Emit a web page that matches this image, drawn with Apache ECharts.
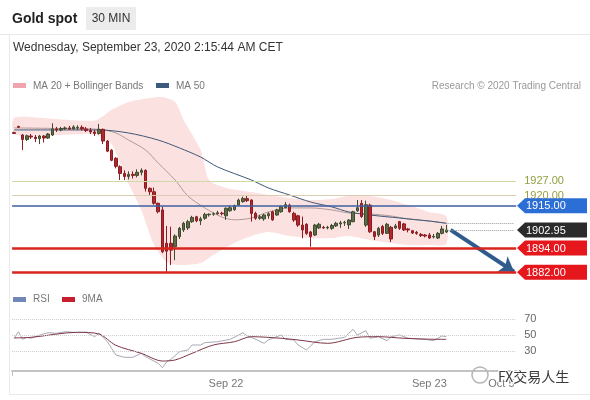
<!DOCTYPE html>
<html><head><meta charset="utf-8">
<script src="https://cdn.jsdelivr.net/npm/echarts/dist/echarts.min.js"></script>
<style>html,body{margin:0;padding:0;background:#fff;}#c{width:590px;height:400px;}</style>
</head><body><div id="c"></div>
<script>
// ---------- DATA ----------
const candleOpen  = [1951.2,1954.2,1950.0,1947.8,1949.5,1949.0,1948.2,1949.5,1948.5,1950.0,1953.0,1952.5,1953.2,1953.5,1953.0,1953.5,1953.8,1953.0,1952.2,1951.5,1950.8,1952.8,1947.0,1942.5,1938.5,1934.3,1931.0,1929.5,1930.5,1930.0,1931.5,1932.5,1923.6,1921.9,1916.2,1912.9,1896.4,1896.4,1894.7,1899.7,1903.0,1904.0,1907.1,1909.5,1907.5,1908.8,1910.5,1910.8,1911.0,1911.3,1910.0,1912.5,1913.0,1915.3,1917.0,1918.5,1917.8,1911.2,1908.8,1908.5,1910.0,1912.0,1910.4,1912.0,1914.0,1915.3,1911.2,1910.0,1905.4,1905.8,1902.0,1900.5,1904.0,1904.3,1904.0,1903.8,1905.0,1906.0,1906.5,1905.5,1907.1,1912.5,1916.2,1905.4,1915.3,1902.1,1900.5,1904.7,1901.3,1904.3,1904.0,1907.1,1906.0,1903.5,1902.6,1901.8,1900.8,1900.5,1900.5,1899.5,1899.0,1901.3,1902.0];
const candleHigh  = [1951.6,1954.6,1950.5,1950.2,1950.5,1950.0,1950.0,1950.0,1951.0,1955.8,1954.0,1954.0,1954.2,1954.5,1954.8,1954.8,1954.8,1954.0,1953.5,1952.5,1955.5,1953.2,1947.5,1943.0,1939.0,1935.0,1932.5,1932.0,1932.0,1933.0,1933.5,1933.0,1924.0,1924.0,1916.5,1914.5,1905.0,1904.6,1900.8,1904.5,1907.0,1908.0,1910.0,1910.0,1909.5,1911.5,1911.2,1911.7,1912.5,1912.0,1914.2,1915.0,1915.5,1918.5,1919.5,1919.8,1918.2,1912.0,1910.5,1911.0,1911.8,1912.5,1913.5,1915.0,1916.8,1916.0,1912.0,1910.5,1909.6,1906.3,1902.5,1906.0,1906.5,1905.0,1905.0,1906.0,1907.0,1907.5,1907.5,1908.3,1912.5,1917.8,1917.8,1917.5,1916.0,1902.5,1904.5,1905.5,1906.5,1905.0,1906.0,1907.5,1906.5,1904.0,1903.0,1902.5,1901.5,1901.0,1901.5,1901.0,1902.0,1905.0,1905.5];
const candleLow   = [1950.6,1953.5,1942.6,1947.0,1948.0,1946.5,1945.5,1946.3,1948.0,1949.5,1951.5,1951.8,1952.5,1952.5,1952.8,1952.5,1952.2,1951.5,1950.5,1949.5,1950.2,1945.5,1941.5,1937.0,1933.5,1927.7,1927.7,1928.0,1928.5,1929.0,1930.0,1922.0,1920.3,1915.5,1911.2,1891.5,1882.2,1885.6,1888.0,1898.5,1902.0,1903.0,1906.5,1906.8,1905.4,1908.0,1909.6,1910.0,1910.5,1910.2,1908.0,1912.0,1912.5,1915.0,1916.5,1916.8,1907.1,1908.0,1908.0,1907.5,1908.5,1907.5,1910.0,1911.5,1913.8,1911.5,1907.0,1904.5,1898.9,1900.5,1894.7,1900.0,1903.5,1903.5,1903.3,1903.0,1904.5,1904.0,1905.0,1903.5,1906.8,1912.0,1909.0,1904.5,1901.5,1898.0,1899.5,1900.5,1901.0,1897.0,1903.5,1903.0,1902.5,1901.8,1901.0,1900.6,1899.5,1899.3,1898.5,1898.8,1898.5,1900.8,1901.5];
const candleClose = [1950.8,1953.8,1947.8,1949.6,1949.0,1948.2,1949.5,1948.5,1950.5,1953.0,1952.5,1953.2,1953.5,1953.0,1954.0,1953.8,1953.0,1952.2,1951.5,1950.8,1952.8,1947.0,1942.0,1937.5,1934.5,1931.0,1929.5,1930.5,1930.0,1931.5,1932.5,1923.6,1921.9,1916.2,1912.0,1892.2,1892.5,1893.0,1900.0,1903.8,1906.3,1907.1,1909.2,1907.5,1908.5,1910.7,1910.8,1911.0,1911.5,1911.0,1913.7,1914.0,1915.0,1917.8,1918.6,1917.5,1911.2,1908.8,1909.5,1910.4,1911.0,1908.0,1912.9,1914.5,1915.5,1912.0,1907.9,1905.4,1903.0,1901.3,1899.7,1905.4,1905.8,1904.0,1904.3,1905.2,1906.3,1906.5,1906.8,1907.9,1912.0,1914.0,1909.6,1915.5,1902.1,1899.7,1903.8,1901.3,1905.8,1898.5,1905.0,1903.8,1903.0,1903.0,1901.5,1901.3,1900.2,1900.0,1899.0,1899.8,1901.3,1903.5,1902.95];

const bbUpIdx  = [0,8,19,23,27,32,35,38,40,44,46,50,56,60,65,70,75,79,84,89,93,98,102];
const bbUpper  = [1958.5,1958.2,1957.2,1962.4,1966.3,1968.3,1968.8,1966.3,1957.4,1942.6,1927.7,1923.8,1921.8,1920.3,1918.8,1917.8,1918.3,1919.8,1919.8,1917.8,1915.3,1911.8,1909.8];
const bbLowIdx = [0,8,19,23,26,30,33,36,39,44,47,52,56,60,65,70,75,79,84,89,93,98,102];
const bbLower  = [1950.5,1949.8,1950.2,1945.5,1930.2,1912.9,1895.5,1887.1,1885.6,1886.6,1890.6,1896.5,1900.0,1902.0,1900.0,1899.0,1899.0,1900.0,1898.0,1896.5,1895.5,1895.5,1896.0];

const ma20Idx = [0,11,20,24,27,31,34,38,41,45,49,52,56,60,65,70,75,79,84,89,93,98,102];
const ma20Val = [1953.5,1953.2,1952.8,1951.0,1947.5,1942.6,1936.1,1927.7,1919.8,1913.9,1909.4,1908.0,1908.9,1911.9,1913.9,1913.9,1912.9,1911.4,1910.9,1909.9,1908.4,1907.4,1906.3];
const ma50Idx = [0,20,27,34,39,44,48,56,60,65,70,75,79,84,91,98,102];
const ma50Val = [1952.5,1952.5,1951.0,1947.5,1943.6,1939.1,1934.2,1927.7,1923.8,1920.3,1916.8,1914.4,1911.9,1910.4,1908.9,1907.4,1906.3];

const rsiIdx = [0,1,2,3,4,5,6,8,10,12,15,17,19,20,22,24,26,28,30,31,34,35,36,37,39,41,42,44,45,48,51,53,54,55,56,59,60,63,64,66,67,69,71,73,75,78,80,81,83,84,86,88,89,91,93,97,99,101,102];
const rsiVal = [45.9,54.1,44.6,47.1,45.9,47.9,50,52.9,52.1,54.1,52.9,53.4,47.9,52.1,41.6,25,22.1,22.1,27.1,22.9,14.6,9.1,16.6,19.6,29.1,31.3,37.5,37.5,40.4,41.6,44.6,50,52.9,48.8,47.1,39.6,43.8,50,44.6,43.8,37.5,31.3,41.6,44.6,44.6,47.1,57.1,50,55.4,45.9,47.9,42.9,47.9,50,45.9,44.6,42.9,48.8,47.9];
const rsiMaIdx = [0,4,15,20,24,30,35,38,42,47,52,56,63,67,74,81,86,92,100,102];
const rsiMaVal = [46.3,47.1,53.4,51.3,37.1,27.1,17.5,18.8,27.1,37.5,41.6,47.9,45.9,43.8,39.6,47.1,47.9,45.9,44.6,44.6];

const levelValues = [1927, 1920, 1915, 1894, 1882];
const levelTexts  = ['1927.00', '1920.00', '1915.00', '1894.00', '1882.00'];
const lastPrice = 1902.95;
const ma50Last = 1906.3;
const arrowFrom = [103, 1903.0];
const arrowTo   = [118, 1882.3];
const rsiLevels = [70, 50, 30];

const tickIndex  = [50, 98, 115];
const tickLabels = ['Sep 22', 'Sep 23', 'Oct 5'];

const slotCount = 119;
const categories = [];
const monthNames = ['Jan','Feb','Mar','Apr','May','Jun','Jul','Aug','Sep','Oct','Nov','Dec'];
const t0 = Date.UTC(2020, 8, 20, 23, 0);
for (let i = 0; i < slotCount; i++) {
  const d = new Date(t0 + i * 1800000);
  categories.push(monthNames[d.getUTCMonth()] + ' ' + d.getUTCDate() + ' ' +
    String(d.getUTCHours()).padStart(2,'0') + ':' + String(d.getUTCMinutes()).padStart(2,'0'));
}

// ---------- STYLES ----------
const FONT = '"Liberation Sans", Arial, sans-serif';
const levelStyle = [
  {color:'#cddaa8', width:1, text:'#8fa03f', showText:true},
  {color:'#dccdb2', width:1, text:'#98a043', showText:true},
  {color:'#3c5fa2', width:1.5, showText:false},
  {color:'#d8241d', width:2.5, showText:false},
  {color:'#d8241d', width:2.5, showText:false}
];
const tagValues = [1915, lastPrice, 1894, 1882];
const tagTexts  = ['1915.00', '1902.95', '1894.00', '1882.00'];
const tagFill   = ['#2b6fd6', '#2b2b2b', '#e5161c', '#e5161c'];

const tickMap = {};
tickIndex.forEach((k, i) => tickMap[k] = tickLabels[i]);
const pairs = (xs, ys) => xs.map((x, i) => [x, ys[i]]);

const chart = echarts.init(document.getElementById('c'));

const levelLines = levelValues.map((v, i) => ({
  yAxis: v,
  lineStyle: {color: levelStyle[i].color, width: levelStyle[i].width, type: 'solid'},
  label: levelStyle[i].showText ? {show:true, position:'end', distance:8, formatter: levelTexts[i],
         color: levelStyle[i].text, fontSize: 11, fontFamily: FONT} : {show:false}
}));

const option = {
  animation: false,
  backgroundColor: '#fff',
  grid: [
    {left: 12.08, top: 90.56, width: 504.1, height: 189.88, outerBoundsMode: 'none'},
    {left: 12.08, top: 295, width: 504.1, height: 76, outerBoundsMode: 'none'}
  ],
  xAxis: [
    {type:'category', gridIndex:0, data:categories, boundaryGap:true, show:false},
    {type:'category', gridIndex:1, data:categories, boundaryGap:true,
     axisLine:{show:true, lineStyle:{color:'#c3c3c3', width:2}},
     axisTick:{show:true, interval:(i)=> i === 0, length:5, lineStyle:{color:'#c3c3c3'}},
     axisLabel:{show:true, interval:0, hideOverlap:false, formatter:(v, i) => tickMap[i] || '',
                color:'#777', fontSize:11, fontFamily:FONT, margin:7},
     splitLine:{show:false}}
  ],
  yAxis: [
    {type:'value', gridIndex:0, min:1878, max:1972, show:false},
    {type:'value', gridIndex:1, min:5, max:100, show:false}
  ],
  series: [
    {
      type:'custom', name:'bb', xAxisIndex:0, yAxisIndex:0, z:1, silent:true,
      data:[[0, 1950]],
      renderItem: function (params, api) {
        const pts = [];
        for (let i = 0; i < bbUpIdx.length; i++) pts.push(api.coord([bbUpIdx[i], bbUpper[i]]));
        for (let i = bbLowIdx.length - 1; i >= 0; i--) pts.push(api.coord([bbLowIdx[i], bbLower[i]]));
        return {type:'polygon', shape:{points:pts, smooth:0.25}, style:{fill:'#fce1e1'}};
      }
    },
    {
      type:'line', name:'MA 20', xAxisIndex:0, yAxisIndex:0, z:2, silent:true,
      data: pairs(ma20Idx, ma20Val), showSymbol:false, symbol:'none', smooth:0.3,
      lineStyle:{color:'#b09a98', width:1}
    },
    {
      type:'line', name:'MA 50', xAxisIndex:0, yAxisIndex:0, z:2, silent:true,
      data: pairs(ma50Idx, ma50Val), showSymbol:false, symbol:'none', smooth:0.3,
      lineStyle:{color:'#3e5878', width:1},
      markLine: {
        silent:true, animation:false, symbol:['none','arrow'], symbolSize:14,
        label:{show:false},
        lineStyle:{color:'#2f5c8c', width:4, type:'solid'},
        data: [[{coord: arrowFrom}, {coord: arrowTo}]]
      }
    },
    {
      type:'candlestick', name:'Gold', xAxisIndex:0, yAxisIndex:0, z:3, silent:true,
      barWidth: 3,
      data: candleOpen.map((o, i) => [o, candleClose[i], candleLow[i], candleHigh[i]]),
      itemStyle: {color:'#5e6d47', color0:'#b3282d', borderColor:'#3f4b2e', borderColor0:'#8b1d22', borderWidth:1},
      markLine: {
        silent:true, animation:false, symbol:['none','none'],
        data: levelLines.concat([
          [{coord:[102, lastPrice], lineStyle:{color:'#9a9a9a', width:1, type:'dotted'}, label:{show:false}},
           {coord:[118, lastPrice]}],
          [{coord:[102, ma50Last], lineStyle:{color:'#9a9a9a', width:1, type:'dotted'}, label:{show:false}},
           {coord:[118, ma50Last]}]
        ])
      }
    },
    {
      type:'line', name:'RSI', xAxisIndex:1, yAxisIndex:1, z:2, silent:true,
      data: pairs(rsiIdx, rsiVal), showSymbol:false, symbol:'none',
      lineStyle:{color:'#a9a7b7', width:1},
      markLine: {
        silent:true, animation:false, symbol:['none','none'],
        lineStyle:{color:'#cfcfcf', width:1, type:'dotted'},
        label:{show:true, position:'end', distance:8, color:'#666', fontSize:11, fontFamily:FONT,
               formatter:(p) => String(p.value)},
        data: rsiLevels.map(v => ({yAxis: v}))
      }
    },
    {
      type:'line', name:'9MA', xAxisIndex:1, yAxisIndex:1, z:3, silent:true,
      data: pairs(rsiMaIdx, rsiMaVal), showSymbol:false, symbol:'none', smooth:0.3,
      lineStyle:{color:'#7e3546', width:1}
    }
  ]
};
chart.setOption(option);

// ---------- GRAPHICS (header, legends, tags, watermark) ----------
const g = [];
g.push({type:'line', shape:{x1:0, y1:34.5, x2:590, y2:34.5}, style:{stroke:'#e6e6e6', lineWidth:1}, z:50});
g.push({type:'rect', shape:{x:9.5, y:34.5, width:600, height:360}, style:{fill:null, stroke:'#e9e9e9', lineWidth:1}, z:50});
g.push({type:'text', x:12, y:19, style:{text:'Gold spot', font:'bold 14px ' + FONT, fill:'#222', verticalAlign:'middle'}, z:50});
g.push({type:'rect', shape:{x:86, y:7, width:50, height:23}, style:{fill:'#ececec'}, z:50});
g.push({type:'text', x:111, y:18.5, style:{text:'30 MIN', font:'12px ' + FONT, fill:'#333', align:'center', verticalAlign:'middle'}, z:51});
g.push({type:'text', x:13, y:48, style:{text:'Wednesday, September 23, 2020 2:15:44 AM CET', font:'12px ' + FONT, fill:'#333', verticalAlign:'middle'}, z:50});

// main legend
g.push({type:'rect', shape:{x:13, y:83, width:13, height:5}, style:{fill:'#f0a4ad'}, z:50});
g.push({type:'text', x:33, y:86, style:{text:'MA 20 + Bollinger Bands', font:'10px ' + FONT, fill:'#777', verticalAlign:'middle'}, z:50});
g.push({type:'rect', shape:{x:156, y:83, width:13, height:5}, style:{fill:'#3b5a7e'}, z:50});
g.push({type:'text', x:176, y:86, style:{text:'MA 50', font:'10px ' + FONT, fill:'#777', verticalAlign:'middle'}, z:50});
g.push({type:'text', x:581, y:86, style:{text:'Research \u00A9 2020 Trading Central', font:'10px ' + FONT, fill:'#999', align:'right', verticalAlign:'middle'}, z:50});

// RSI legend
g.push({type:'rect', shape:{x:13, y:297, width:13, height:5}, style:{fill:'#7088b8'}, z:50});
g.push({type:'text', x:33, y:299.5, style:{text:'RSI', font:'10px ' + FONT, fill:'#777', verticalAlign:'middle'}, z:50});
g.push({type:'rect', shape:{x:62, y:297, width:13, height:5}, style:{fill:'#c81f2e'}, z:50});
g.push({type:'text', x:82, y:299.5, style:{text:'9MA', font:'10px ' + FONT, fill:'#777', verticalAlign:'middle'}, z:50});

// price tags
tagValues.forEach((v, i) => {
  const y = chart.convertToPixel({gridIndex:0}, [0, v])[1];
  const xl = 517, xa = 525, xr = 587, h = 7.5;
  g.push({type:'polygon', shape:{points:[[xl, y], [xa, y - h], [xr, y - h], [xr, y + h], [xa, y + h]]},
          style:{fill: tagFill[i]}, z:60});
  g.push({type:'text', x:526, y:y + 0.5, style:{text: tagTexts[i], font:'11px ' + FONT, fill:'#fff', verticalAlign:'middle'}, z:61});
});

// watermark
g.push({type:'circle', shape:{cx:480, cy:375, r:8}, style:{fill:null, stroke:'#b5b5b5', lineWidth:1.5}, z:70});
g.push({type:'text', x:498, y:377, style:{text:'FX\u4EA4\u6613\u4EBA\u751F', font:'14px "Noto Sans CJK SC", sans-serif', fill:'#3a3a3a',
        stroke:'#ffffff', lineWidth:2, verticalAlign:'middle'}, z:70});

chart.setOption({graphic: g});
</script>
</body></html>
